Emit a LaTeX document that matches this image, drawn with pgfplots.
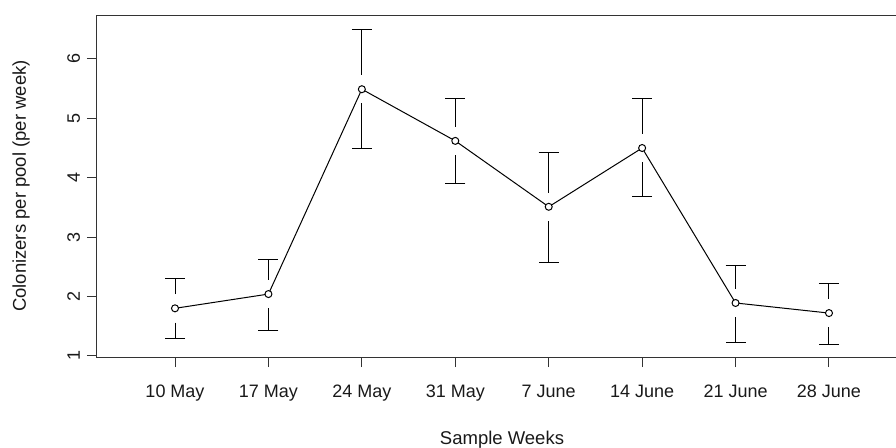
\documentclass[border=0pt]{standalone}
\usepackage{fontspec}
\setmainfont{Liberation Sans}
\usepackage{pgfplots}
\pgfplotsset{compat=1.18}
\usepackage{pgfplotstable}
\pgfplotstableread{
x m up lo
1 1.80 2.31 1.30
2 2.04 2.62 1.43
3 5.49 6.50 4.50
4 4.62 5.34 3.90
5 3.51 4.42 2.58
6 4.50 5.33 3.68
7 1.89 2.52 1.23
8 1.72 2.22 1.19
}\data
\begin{document}
\begin{tikzpicture}
\begin{axis}[at={(0,0)}, anchor=south west, scale only axis, width=405pt, height=171pt,
  xmin=0.165, xmax=8.835, ymin=0.98, ymax=6.74,
  xtick={1,...,8},
  xticklabels={10 May,17 May,24 May,31 May,7 June,14 June,21 June,28 June},
  ytick={1,...,6},
  tick align=outside, major tick length=5pt, xtick pos=bottom, ytick pos=left,
  axis line style={line width=0.5pt, black!80},
  every tick/.style={black!80, line width=0.5pt},
  tick label style={font=\fontsize{9}{10}\selectfont, text=black!90},
  yticklabel style={rotate=90, anchor=south},
  xticklabel style={anchor=north, yshift=-5.5pt},
  label style={font=\fontsize{9.25}{11}\selectfont, text=black!90},
  xlabel={Sample Weeks}, ylabel={Colonizers per pool (per week)},
  xlabel style={at={(axis description cs:0.5,-0.243)}, anchor=center},
  ylabel style={at={(axis description cs:-0.0938,0.5)}, anchor=center},
  /pgf/number format/assume math mode=true,
  clip=false]
\addplot[draw=none, mark=none, forget plot,
  error bars/.cd, y dir=plus, y explicit,
  error mark options={rotate=90, draw=black, mark size=5pt, line width=0.5pt},
  error bar style={draw=black, line width=0.5pt}]
  table[x=x, y expr=\thisrow{m}+0.24, y error expr=\thisrow{up}-\thisrow{m}-0.24] {\data};
\addplot[draw=none, mark=none, forget plot,
  error bars/.cd, y dir=minus, y explicit,
  error mark options={rotate=90, draw=black, mark size=5pt, line width=0.5pt},
  error bar style={draw=black, line width=0.5pt}]
  table[x=x, y expr=\thisrow{m}-0.24, y error expr=\thisrow{m}-0.24-\thisrow{lo}] {\data};
\addplot[black, line width=0.5pt, mark=*, mark size=1.75pt,
  mark options={fill=white, draw=black, line width=0.5pt}]
  table[x=x, y=m] {\data};
\end{axis}
\pgfresetboundingbox
\path[use as bounding box] (-48.5pt,-45pt) rectangle (399.5pt,178.5pt);
\end{tikzpicture}
\end{document}
